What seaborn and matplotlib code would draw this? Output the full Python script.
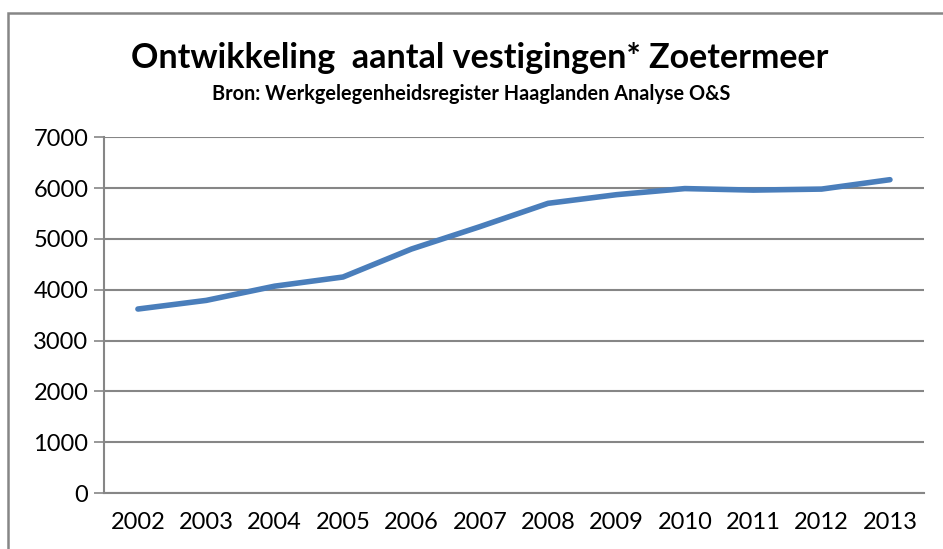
import pandas as pd
import numpy as np
import matplotlib.pyplot as plt
import seaborn as sns
from matplotlib.patches import Rectangle

years = ['2002', '2003', '2004', '2005', '2006', '2007', '2008', '2009', '2010', '2011', '2012', '2013']
vestigingen = [3620, 3790, 4070, 4250, 4800, 5240, 5700, 5870, 5990, 5960, 5980, 6165]
y_ticks = [0, 1000, 2000, 3000, 4000, 5000, 6000, 7000]

df = pd.DataFrame({'jaar': years, 'aantal': vestigingen})

sns.set_style('white')
plt.rcParams['font.family'] = ['Lato', 'DejaVu Sans']
plt.rcParams['text.color'] = 'black'
plt.rcParams['xtick.labelcolor'] = 'black'
plt.rcParams['ytick.labelcolor'] = 'black'

grey = '#868686'
fig = plt.figure(figsize=(9.43, 5.49), dpi=100)
ax = fig.add_axes([0.110, 0.102, 0.870, 0.648])

sns.lineplot(data=df, x='jaar', y='aantal', ax=ax, color='#4a7ebb', linewidth=4,
             solid_capstyle='round')

ax.set_ylim(0, 7000)
ax.set_xlim(-0.5, len(years) - 0.5)
ax.set_yticks(y_ticks)
ax.set_yticklabels([str(t) for t in y_ticks], fontsize=17, color='black')
ax.yaxis.grid(True, color=grey, linewidth=1.5)
ax.set_axisbelow(True)

ax.set_xticks(np.arange(-0.5, len(years), 1.0))
ax.set_xticklabels([])
ax.set_xticks(np.arange(len(years)), minor=True)
ax.set_xticklabels(years, minor=True, fontsize=17, color='black')
ax.tick_params(axis='x', which='major', length=8, color=grey, width=1.2)
ax.tick_params(axis='x', which='minor', length=0, pad=14)
ax.tick_params(axis='y', length=7, color=grey, width=1.2, pad=4, left=True)

for s in ['top', 'right']:
    ax.spines[s].set_visible(False)
for s in ['left', 'bottom']:
    ax.spines[s].set_color(grey)
    ax.spines[s].set_linewidth(1.5)

ax.set_xlabel('')
ax.set_ylabel('')

# outer chart border (right and bottom edges fall outside the picture)
fig.patches.append(Rectangle((0.009, -0.1), 1.1, 1.076, transform=fig.transFigure,
                             fill=False, edgecolor=grey, linewidth=1.8))

fig.text(0.509, 0.894, 'Ontwikkeling  aantal vestigingen* Zoetermeer', ha='center', va='center',
         fontsize=24.5, fontweight='bold', color='black')
fig.text(0.500, 0.829, 'Bron: Werkgelegenheidsregister Haaglanden Analyse O&S', ha='center', va='center',
         fontsize=14.3, fontweight='bold', color='black')

fig.savefig('out.png', dpi=100)
